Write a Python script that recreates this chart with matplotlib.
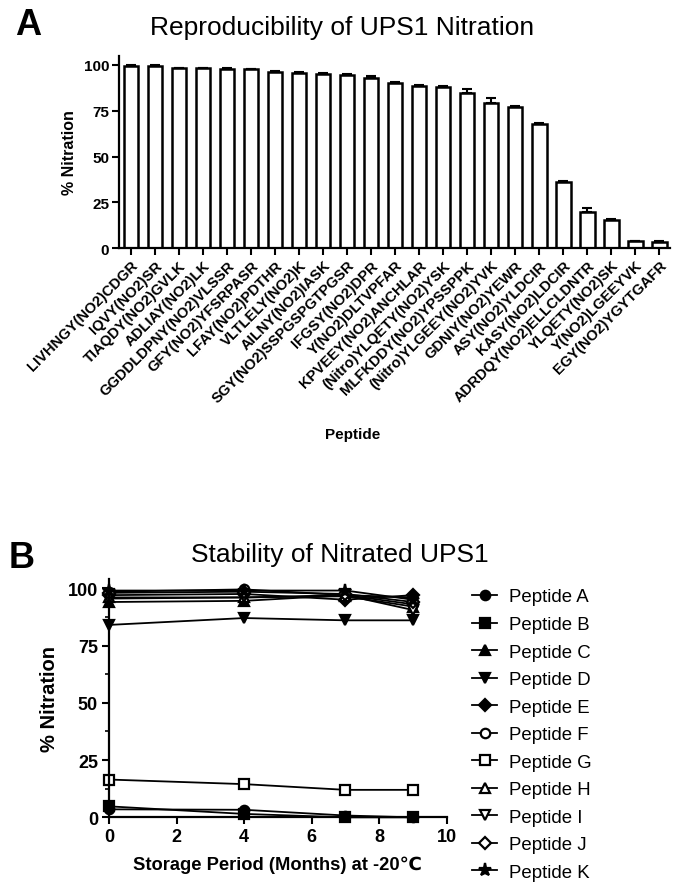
import numpy as np
import matplotlib
matplotlib.use("Agg")
import matplotlib.pyplot as plt
from matplotlib.ticker import MultipleLocator

plt.rcParams['font.family'] = ['Liberation Sans', 'DejaVu Sans']

# ---------- Panel A data ----------
peptides = [
    "LIVHNGY(NO2)CDGR", "IQVY(NO2)SR", "TIAQDY(NO2)GVLK", "ADLIAY(NO2)LK",
    "GGDDLDPNY(NO2)VLSSR", "GFY(NO2)YFSRPASR", "LFAY(NO2)PDTHR", "VLTLELY(NO2)K",
    "AILNY(NO2)IASK", "SGY(NO2)SSPGSPGTPGSR", "IFGSY(NO2)DPR", "Y(NO2)DLTVPFAR",
    "KPVEEY(NO2)ANCHLAR", "(Nitro)YLQETY(NO2)YSK", "MLFKDDY(NO2)YPSSPPK",
    "(Nitro)YLGEEY(NO2)YVK", "GDNIY(NO2)YEWR", "ASY(NO2)YLDCIR", "KASY(NO2)LDCIR",
    "ADRDQY(NO2)ELLCLDNTR", "YLQETY(NO2)SK", "Y(NO2)LGEEYVK", "EGY(NO2)YGYTGAFR",
]
nitration = [99.6, 99.4, 98.3, 98.2, 98.0, 97.6, 96.4, 95.8, 95.2, 94.6, 92.6,
             90.4, 88.5, 88.0, 84.6, 79.4, 77.3, 67.6, 36.3, 19.8, 15.4, 3.7, 3.5]
nitration_err = [0.5, 0.3, 0.3, 0.3, 0.2, 0.2, 0.5, 0.5, 0.4, 0.3, 1.4,
                 0.3, 0.4, 0.5, 2.5, 2.4, 0.2, 0.8, 0.4, 2.1, 0.7, 0.5, 0.7]

# ---------- Panel B data ----------
months = [0, 4, 7, 9]
series_names = ["Peptide A", "Peptide B", "Peptide C", "Peptide D", "Peptide E",
                "Peptide F", "Peptide G", "Peptide H", "Peptide I", "Peptide J",
                "Peptide K"]
pep_a = [3.5, 3.3, 0.8, 0.0]
pep_b = [4.8, 1.5, 0.0, 0.0]
pep_c = [94.0, 94.5, 97.0, 96.0]
pep_d = [84.0, 87.0, 86.0, 86.0]
pep_e = [97.0, 97.5, 95.0, 97.0]
pep_f = [98.5, 99.5, 97.0, 93.0]
pep_g = [16.5, 14.5, 12.0, 12.0]
pep_h = [96.0, 96.0, 96.5, 92.0]
pep_i = [95.5, 96.0, 97.0, 90.5]
pep_j = [98.0, 98.5, 97.5, 94.0]
pep_k = [99.0, 99.0, 99.0, 95.0]
series_values = [pep_a, pep_b, pep_c, pep_d, pep_e, pep_f, pep_g, pep_h,
                 pep_i, pep_j, pep_k]
markers = ['o', 's', '^', 'v', 'D', 'o', 's', '^', 'v', 'D', '*']
filled = [True, True, True, True, True, False, False, False, False, False, True]

fig = plt.figure(figsize=(6.75, 8.87), dpi=100)

# ================= Panel A =================
axA = fig.add_axes([0.176, 0.719, 0.817, 0.217])
x = np.arange(len(peptides))
axA.bar(x, nitration, width=0.6, color='white', edgecolor='black', linewidth=1.8,
        yerr=[np.zeros(len(nitration_err)), nitration_err],
        error_kw=dict(ecolor='black', elinewidth=1.5, capsize=3.5, capthick=1.5))
axA.set_xlim(-0.5, len(peptides) - 0.55)
axA.set_ylim(0, 105)
axA.set_yticks([0, 25, 50, 75, 100])
axA.set_xticks(x)
axA.set_xticklabels(peptides, rotation=45, ha='right', rotation_mode='anchor',
                    fontsize=10.6, fontweight='bold')
for lab in axA.get_yticklabels():
    lab.set_fontweight('bold')
    lab.set_fontsize(11)
axA.tick_params(axis='both', width=1.5, length=5, pad=2)
axA.spines['top'].set_visible(False)
axA.spines['right'].set_visible(False)
axA.spines['left'].set_linewidth(1.6)
axA.spines['bottom'].set_linewidth(1.6)
axA.set_ylabel('% Nitration', fontsize=11.5, fontweight='bold', labelpad=5)
fig.text(353 / 675, 1 - 435 / 887, 'Peptide', fontsize=11, fontweight='bold',
         ha='center', va='center')
fig.text(342 / 675, 1 - 28 / 887, 'Reproducibility of UPS1 Nitration',
         fontsize=19, ha='center', va='center')
fig.text(15 / 675, 1 - 8 / 887, 'A', fontsize=26, fontweight='bold',
         ha='left', va='top')

# ================= Panel B =================
axB = fig.add_axes([0.1615, 0.0774, 0.5005, 0.2686])
handles = []
for name, vals, mk, fl in zip(series_names, series_values, markers, filled):
    ms = 9.5 if mk == '*' else (5.8 if mk == 'D' else 6.8)
    h, = axB.plot(months, vals, color='black', linewidth=1.3, marker=mk,
                  markersize=ms, markerfacecolor='black' if fl else 'white',
                  markeredgecolor='black', markeredgewidth=1.6, clip_on=False,
                  label=name)
    handles.append(h)
axB.set_xlim(0, 10)
axB.set_ylim(0, 104)
axB.set_xticks([0, 2, 4, 6, 8, 10])
axB.set_yticks([0, 25, 50, 75, 100])
axB.yaxis.set_minor_locator(MultipleLocator(12.5))
for lab in axB.get_xticklabels() + axB.get_yticklabels():
    lab.set_fontweight('bold')
    lab.set_fontsize(13)
axB.tick_params(axis='both', which='major', width=1.5, length=5, pad=3)
axB.tick_params(axis='y', which='minor', width=1.2, length=3)
axB.spines['top'].set_visible(False)
axB.spines['right'].set_visible(False)
axB.spines['left'].set_linewidth(1.6)
axB.spines['bottom'].set_linewidth(1.6)
axB.set_xlabel('Storage Period (Months) at -20\u2103', fontsize=13.2,
               fontweight='bold', labelpad=7)
axB.set_ylabel('% Nitration', fontsize=14.5, fontweight='bold', labelpad=6)
fig.text(340 / 675, 1 - 555 / 887, 'Stability of Nitrated UPS1',
         fontsize=19, ha='center', va='center')
fig.text(9 / 675, 1 - 541 / 887, 'B', fontsize=26, fontweight='bold',
         ha='left', va='top')

fig.legend(handles=handles, loc='upper left', bbox_to_anchor=(465 / 675, 1 - 582 / 887),
           frameon=False, fontsize=13.4, handlelength=1.3, handletextpad=0.65,
           labelspacing=0.565, borderaxespad=0)

fig.savefig('out.png', dpi=100)
